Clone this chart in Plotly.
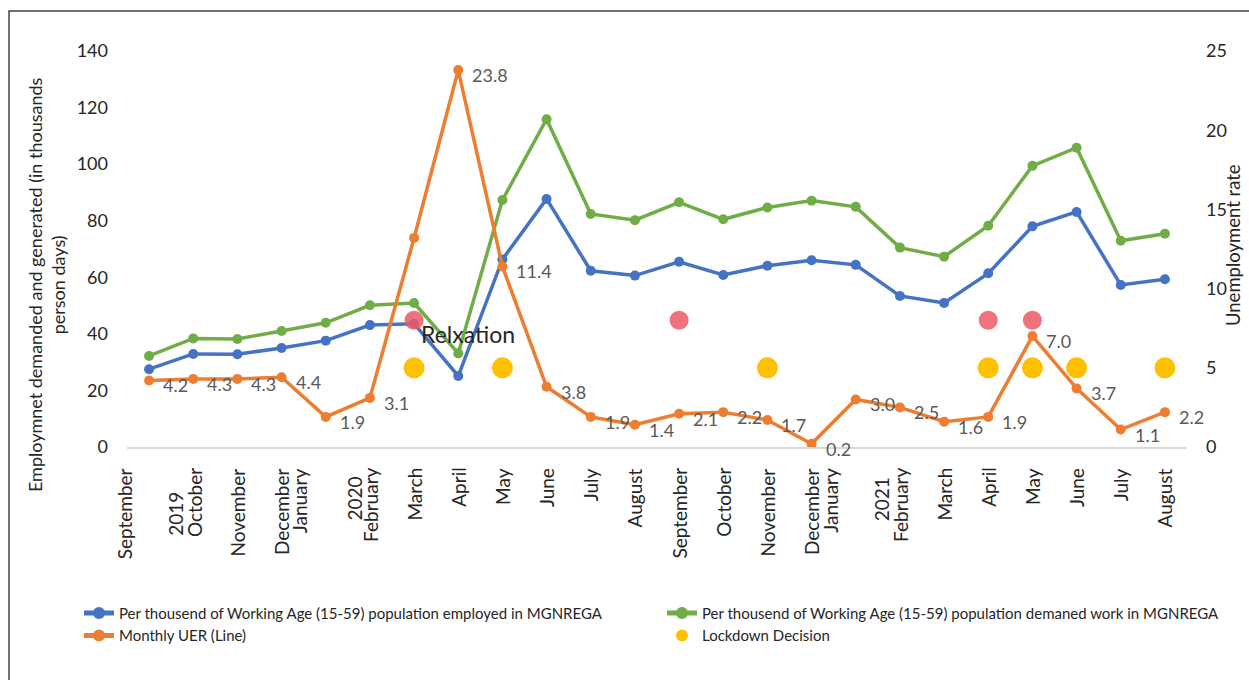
import plotly.graph_objects as go

# ---------------- data ----------------
n_points = 24
employed = [27.5, 32.9, 32.8, 35.0, 37.6, 43.1, 43.6, 25.1, 66.3, 87.7, 62.3, 60.6,
            65.5, 60.8, 64.1, 66.0, 64.4, 53.4, 50.9, 61.4, 78.0, 83.1, 57.3, 59.3]
demanded = [32.2, 38.4, 38.2, 41.0, 43.9, 50.1, 50.9, 33.1, 87.3, 115.9, 82.4, 80.2,
            86.5, 80.5, 84.7, 87.1, 84.9, 70.5, 67.3, 78.2, 99.4, 105.8, 72.9, 75.4]
uer = [4.2, 4.3, 4.3, 4.4, 1.9, 3.1, 13.2, 23.8, 11.4, 3.8, 1.9, 1.4,
       2.1, 2.2, 1.7, 0.2, 3.0, 2.5, 1.6, 1.9, 7.0, 3.7, 1.1, 2.2]
uer_label_hidden = [6]  # March 2020 has no data label

lockdown_idx = [6, 8, 14, 19, 20, 21, 23]
lockdown_val = [5, 5, 5, 5, 5, 5, 5]
relax_idx = [6, 12, 19, 20]
relax_val = [8, 8, 8, 8]

month_labels = ["September", "October", "November", "December", "January", "February",
                "March", "April", "May", "June", "July", "August",
                "September", "October", "November", "December", "January", "February",
                "March", "April", "May", "June", "July", "August"]
month_label_pos = [-0.55, 1.03, 2.0, 3.0, 3.41, 5.0,
                   6, 7, 8, 9, 10, 11,
                   12, 13, 14, 15.0, 15.42, 17.0,
                   18, 19, 20, 21, 22, 23]
year_labels = ["2019", "2020", "2021"]
year_label_pos = [0.58, 4.63, 16.58]
year_label_shift = [-67, -52, -52]

left_ticks = [0, 20, 40, 60, 80, 100, 120, 140]
right_ticks = [0, 5, 10, 15, 20, 25]

# ---------------- styling ----------------
FONT = "Lato"
BLUE = "#4472C4"
GREEN = "#70AD47"
ORANGE = "#ED7D31"
YELLOW = "#FFC000"
RED = "rgba(236,90,100,0.85)"
TXT = "#262626"
GRAY = "#595959"
X_RANGE = [-0.5, n_points - 0.5]


def to_paper(p):
    return (p - X_RANGE[0]) / (X_RANGE[1] - X_RANGE[0])


x = list(range(n_points))

fig = go.Figure()
fig.add_trace(go.Scatter(
    x=x, y=employed, mode="lines+markers",
    name="Per thousend of Working Age (15-59) population employed in MGNREGA",
    line=dict(color=BLUE, width=3.5), marker=dict(color=BLUE, size=10)))
fig.add_trace(go.Scatter(
    x=x, y=demanded, mode="lines+markers",
    name="Per thousend of Working Age (15-59) population demaned work in MGNREGA",
    line=dict(color=GREEN, width=3.5), marker=dict(color=GREEN, size=10)))
fig.add_trace(go.Scatter(
    x=x, y=uer, mode="lines+markers", yaxis="y2",
    name="Monthly UER (Line)",
    line=dict(color=ORANGE, width=3.5), marker=dict(color=ORANGE, size=10)))
fig.add_trace(go.Scatter(
    x=lockdown_idx, y=lockdown_val, mode="markers", yaxis="y2",
    name="Lockdown Decision",
    marker=dict(color=YELLOW, size=21)))
fig.add_trace(go.Scatter(
    x=relax_idx, y=relax_val, mode="markers", yaxis="y2",
    name="Relaxation", showlegend=False,
    marker=dict(color=RED, size=19)))

annotations = []
for i, v in enumerate(uer):
    if i in uer_label_hidden:
        continue
    annotations.append(dict(
        x=i, y=v, xref="x", yref="y2", text=f"{v:.1f}", showarrow=False,
        xanchor="left", yanchor="middle", xshift=12, yshift=-5,
        font=dict(family=FONT, size=18, color=GRAY)))
annotations.append(dict(
    x=relax_idx[0], y=relax_val[0], xref="x", yref="y2", text="Relxation",
    showarrow=False, xanchor="left", yanchor="middle", xshift=5, yshift=-14,
    font=dict(family=FONT, size=23, color=TXT)))
for t, p in zip(month_labels, month_label_pos):
    annotations.append(dict(
        x=to_paper(p), y=0, xref="paper", yref="paper", text=t, showarrow=False,
        textangle=-90, xanchor="center", yanchor="top", yshift=-19,
        font=dict(family=FONT, size=19, color=TXT)))
for t, p, s in zip(year_labels, year_label_pos, year_label_shift):
    annotations.append(dict(
        x=to_paper(p), y=0, xref="paper", yref="paper", text=t, showarrow=False,
        textangle=-90, xanchor="center", yanchor="middle", yshift=s,
        font=dict(family=FONT, size=19, color=TXT)))
annotations.append(dict(
    x=-0.0764, y=0.409, xref="paper", yref="paper",
    text="Employmnet demanded and generated (in thousands<br>person days)",
    showarrow=False, textangle=-90, align="center",
    xanchor="center", yanchor="middle",
    font=dict(family=FONT, size=18, color=TXT)))
annotations.append(dict(
    x=1.0434, y=0.51, xref="paper", yref="paper", text="Unemployment rate",
    showarrow=False, textangle=-90, xanchor="center", yanchor="middle",
    font=dict(family=FONT, size=18.5, color=TXT)))

fig.update_layout(
    width=1249, height=680,
    margin=dict(l=127, r=62, t=51, b=233),
    paper_bgcolor="white", plot_bgcolor="white",
    font=dict(family=FONT, size=18, color=TXT),
    showlegend=True,
    legend=dict(orientation="h", x=-0.0453, y=-0.378, xanchor="left", yanchor="top",
                entrywidth=538, tracegroupgap=0,
                font=dict(family=FONT, size=15, color=TXT),
                itemsizing="constant", bgcolor="rgba(0,0,0,0)"),
    xaxis=dict(range=X_RANGE, showgrid=False, zeroline=False,
               showticklabels=False, ticks="", showline=True,
               linecolor="#d9d9d9", linewidth=2),
    yaxis=dict(range=[0, 140], tickvals=left_ticks, showgrid=False, zeroline=False,
               showline=False, ticks="", ticklabelstandoff=18,
               tickfont=dict(family=FONT, size=18, color=TXT)),
    yaxis2=dict(range=[0, 25], tickvals=right_ticks, overlaying="y", side="right",
                showgrid=False, zeroline=False, showline=False, ticks="",
                ticklabelstandoff=18,
                tickfont=dict(family=FONT, size=18, color=TXT)),
    annotations=annotations,
    shapes=[dict(type="rect", xref="paper", yref="paper",
                 x0=-0.1113, y0=-0.64, x1=1.07, y1=1.101,
                 line=dict(color="#404040", width=1.5), fillcolor="rgba(0,0,0,0)",
                 layer="below")],
)

fig.write_html("out.html")
